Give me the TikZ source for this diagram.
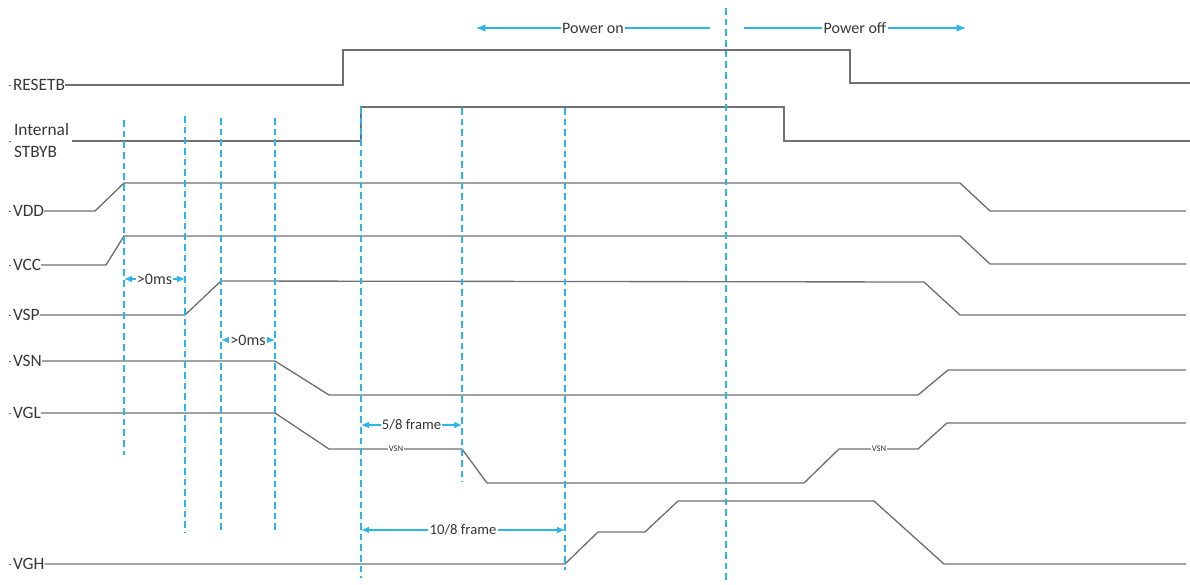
\documentclass[tikz,border=0pt]{standalone}
\usepackage{fontspec}
\setmainfont{Carlito}
\usetikzlibrary{arrows.meta}
\definecolor{wave}{RGB}{112,112,112}
\definecolor{guidec}{RGB}{45,180,235}
\definecolor{txt}{RGB}{55,55,55}
\begin{document}
\begin{tikzpicture}[x=0.75pt,y=-0.75pt,
  sig/.style={draw=wave, line width=1pt, line join=miter},
  guideline/.style={draw=guidec, line width=1.5pt, dash pattern=on 5pt off 3pt},
  lab/.style={font=\fontsize{13}{16}\selectfont, text=txt, anchor=west, inner sep=0pt, outer sep=0pt},
  meas/.style={draw=guidec, line width=0.8pt, {Latex[length=6pt,width=5pt]}-{Latex[length=6pt,width=5pt]}},
  onearrow/.style={draw=guidec, line width=0.8pt, -{Latex[length=7pt,width=5.5pt]}},
  mtext/.style={fill=white, inner sep=1pt, font=\fontsize{12}{14}\selectfont, text=txt},
  ftext/.style={fill=white, inner sep=1pt, font=\fontsize{11}{13}\selectfont, text=txt},
  tiny/.style={fill=white, inner sep=0.5pt, font=\fontsize{6.5}{7}\selectfont, text=txt},
  tick/.style={draw=wave, line width=0.6pt}]
\useasboundingbox (0,0) rectangle (1190,585);

% signal labels
\node[lab] (lRESETB) at (13,85) {RESETB};
\node[lab, align=left, font=\fontsize{13}{16.5}\selectfont] (lSTBYB) at (14,141) {Internal\\STBYB};
\node[lab] (lVDD) at (13,211) {VDD};
\node[lab] (lVCC) at (13,265) {VCC};
\node[lab] (lVSP) at (13,315) {VSP};
\node[lab] (lVSN) at (13,361) {VSN};
\node[lab] (lVGL) at (13,413) {VGL};
\node[lab] (lVGH) at (13,564) {VGH};
\foreach \n in {lRESETB,lVDD,lVCC,lVSP,lVSN,lVGL,lVGH}
  \draw[tick] ([xshift=-3pt]\n.west) -- ([xshift=-1.5pt]\n.west);
\draw[tick] (9,141) -- (11,141);
\coordinate (sSTBYB) at (72,141);

% guide lines (dashed)
\coordinate (g1a) at (124,120); \coordinate (g1b) at (124,455);
\coordinate (g2a) at (185,116); \coordinate (g2b) at (185,533);
\coordinate (g3a) at (221,118); \coordinate (g3b) at (221,533);
\coordinate (g4a) at (275,118); \coordinate (g4b) at (275,533);
\coordinate (g5a) at (361,107); \coordinate (g5b) at (361,578);
\coordinate (g6a) at (462,108); \coordinate (g6b) at (462,482);
\coordinate (g7a) at (565,108); \coordinate (g7b) at (565,570);
\coordinate (g8a) at (726,8);   \coordinate (g8b) at (726,582);

% waveforms
\draw[sig] (lRESETB.east) -- (343,85) -- (343,50) -- (850,50) -- (850,83) -- (1190,83);
\draw[sig] (sSTBYB) -- (361,141) -- (361,107) -- (784,107) -- (784,141) -- (1190,141);
\draw[sig] (lVDD.east) -- (95,211) -- (124,183) -- (960,183) -- (990,211) -- (1186,211);
\draw[sig] (lVCC.east) -- (106,265) -- (124,236) -- (960,236) -- (990,264) -- (1186,264);
\draw[sig] (lVSP.east) -- (185,315) -- (221,281) -- (924,282) -- (960,315) -- (1186,315);
\draw[sig] (lVSN.east) -- (275,361) -- (329,395) -- (918,395) -- (948,370) -- (1186,370);
\draw[sig] (lVGL.east) -- (275,413) -- (329,449) -- (462,449) -- (487,483) -- (804,483)
  -- (839,449) -- (918,449) -- (947,423) -- (1186,423);
\draw[sig] (lVGH.east) -- (565,564) -- (598,532) -- (645,532) -- (678,501) -- (874,501)
  -- (944,564) -- (1186,564);
\node[tiny] (vsn1) at (396,449) {VSN};
\node[tiny] (vsn2) at (879,449) {VSN};

% dashed guides on top
\foreach \i in {1,...,8}
  \draw[guideline] (g\i a) -- (g\i b);

% measurements
\draw[meas] (g1a |- 0,279) -- node[mtext] {>0ms} (g2a |- 0,279);
\draw[meas] (g3a |- 0,340) -- node[mtext] {>0ms} (g4a |- 0,340);
\draw[meas] (g5a |- 0,425) -- node[ftext] {5/8 frame} (g6a |- 0,425);
\draw[meas] (g5a |- 0,530) -- node[ftext] {10/8 frame} (g7a |- 0,530);

% power on / off
\coordinate (pon1) at (710,28); \coordinate (pon2) at (476,28);
\coordinate (poff1) at (744,28); \coordinate (poff2) at (966,28);
\draw[onearrow] (pon1) -- node[mtext] {Power on} (pon2);
\draw[onearrow] (poff1) -- node[mtext, pos=0.5] {Power off} (poff2);
\end{tikzpicture}
\end{document}
